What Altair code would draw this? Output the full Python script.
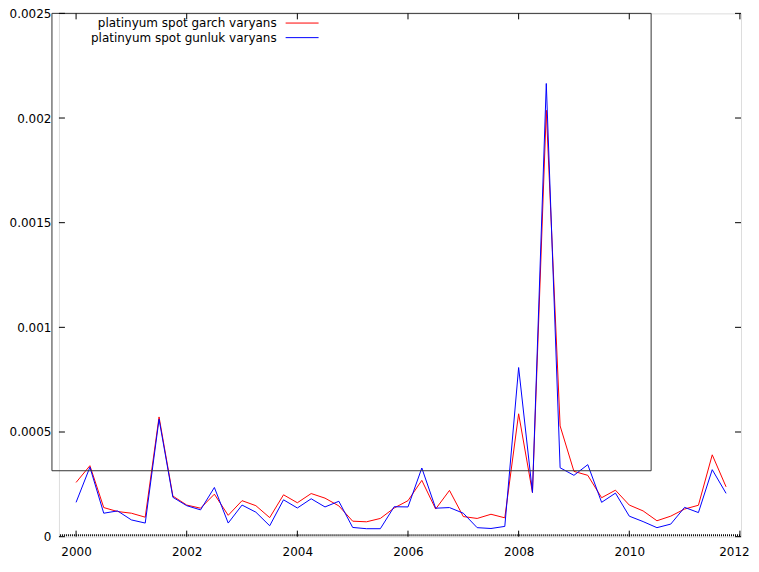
import altair as alt
import pandas as pd

# Quarterly observations 2000Q1 .. 2011Q4
years = [2000 + q * 0.25 for q in range(48)]

garch = [0.000259, 0.000339, 0.000139, 0.000120,
         0.000112, 0.000093, 0.000572, 0.000194,
         0.000151, 0.000136, 0.000203, 0.000102,
         0.000172, 0.000148, 0.000091, 0.000200,
         0.000162, 0.000206, 0.000184, 0.000147,
         0.000074, 0.000071, 0.000087, 0.000137,
         0.000172, 0.000269, 0.000132, 0.000221,
         0.000096, 0.000087, 0.000107, 0.000090,
         0.000587, 0.000211, 0.002037, 0.000529,
         0.000312, 0.000293, 0.000186, 0.000222,
         0.000151, 0.000123, 0.000076, 0.000098,
         0.000132, 0.000150, 0.000391, 0.000238]

gunluk = [0.000164, 0.000332, 0.000112, 0.000123,
          0.000080, 0.000065, 0.000561, 0.000188,
          0.000148, 0.000128, 0.000235, 0.000065,
          0.000151, 0.000117, 0.000052, 0.000176,
          0.000137, 0.000181, 0.000142, 0.000169,
          0.000044, 0.000038, 0.000038, 0.000143,
          0.000142, 0.000328, 0.000136, 0.000139,
          0.000112, 0.000043, 0.000039, 0.000049,
          0.000808, 0.000211, 0.002165, 0.000329,
          0.000293, 0.000344, 0.000164, 0.000208,
          0.000098, 0.000072, 0.000043, 0.000060,
          0.000140, 0.000115, 0.000320, 0.000207]

series_names = ["platinyum spot garch varyans", "platinyum spot gunluk varyans"]
series_colors = ["#ff0000", "#0000ff"]

x_ticks = list(range(2000, 2013, 2))
y_ticks = [0, 0.0005, 0.001, 0.0015, 0.002, 0.0025]

W, H = 683, 524
FONT = "DejaVu Sans"
FS = 12

xscale = alt.Scale(domain=[1999.69, 2012.02], nice=False, zero=False)
yscale = alt.Scale(domain=[0, 0.0025], nice=False)

df_g = pd.DataFrame({"year": years, "v": garch})
df_u = pd.DataFrame({"year": years, "v": gunluk})

x_axis = alt.Axis(values=x_ticks, format="d", ticks=False, tickSize=0, domain=False,
                  grid=False, title=None, labelFont=FONT, labelFontSize=FS,
                  labelColor="black", labelPadding=10,
                  labelOffset={"condition": {"test": "datum.value >= 2012", "value": -6},
                               "value": 0})
y_axis = alt.Axis(values=y_ticks, format="~g", ticks=False, tickSize=0, domain=False,
                  grid=False, title=None, labelFont=FONT, labelFontSize=FS,
                  labelColor="black", labelPadding=8)


def X(field):
    return alt.X(field, scale=xscale, axis=x_axis)


def Y(field):
    return alt.Y(field, scale=yscale, axis=y_axis)


line_g = alt.Chart(df_g).mark_line(color=series_colors[0], strokeWidth=1).encode(
    x=X("year:Q"), y=Y("v:Q"))
line_u = alt.Chart(df_u).mark_line(color=series_colors[1], strokeWidth=1).encode(
    x=X("year:Q"), y=Y("v:Q"))

dxt = pd.DataFrame({"t": x_ticks})
dyt = pd.DataFrame({"t": y_ticks})

tick_bottom = alt.Chart(dxt).mark_rule(color="black", strokeWidth=1).encode(
    x=X("t:Q"), y=alt.value(H), y2=alt.value(H - 6))
tick_top = alt.Chart(dxt).mark_rule(color="black", strokeWidth=1).encode(
    x=X("t:Q"), y=alt.value(0), y2=alt.value(6))
tick_left = alt.Chart(dyt).mark_rule(color="black", strokeWidth=1).encode(
    y=Y("t:Q"), x=alt.value(0), x2=alt.value(6))
tick_right = alt.Chart(dyt).mark_rule(color="black", strokeWidth=1).encode(
    y=Y("t:Q"), x=alt.value(W), x2=alt.value(W - 6))

dummy = pd.DataFrame({"a": [0]})
# fine minor tics along the bottom border (rendered as a dotted strip)
minor_strip = alt.Chart(dummy).mark_rule(
    color="black", strokeWidth=2, strokeDash=[1, 1]
).encode(x=alt.value(1), x2=alt.value(W - 1), y=alt.value(H - 1.5))

box = alt.Chart(dummy).mark_rect(fillOpacity=0, stroke="#333333", strokeWidth=1).encode(
    x=alt.value(-7), x2=alt.value(593), y=alt.value(0), y2=alt.value(458))

legend_layers = []
for i, (name, col) in enumerate(zip(series_names, series_colors)):
    ypos = 9.7 + i * 14.6
    legend_layers.append(
        alt.Chart(pd.DataFrame({"label": [name]})).mark_text(
            align="right", baseline="middle", font=FONT, fontSize=FS, color="black"
        ).encode(text="label:N", x=alt.value(218), y=alt.value(ypos))
    )
    legend_layers.append(
        alt.Chart(dummy).mark_rule(color=col, strokeWidth=1).encode(
            x=alt.value(227), x2=alt.value(260), y=alt.value(ypos))
    )

chart = alt.layer(
    line_g, line_u, box, minor_strip, tick_bottom, tick_top, tick_left, tick_right,
    *legend_layers
).properties(
    width=W, height=H,
    autosize=alt.AutoSizeParams(type="none"),
    padding={"left": 51, "top": 5, "right": 10, "bottom": 25},
).configure_view(
    stroke="#222222", strokeWidth=1
).configure(background="white")

chart.save("out.html", embed_options={"renderer": "svg", "actions": False})
